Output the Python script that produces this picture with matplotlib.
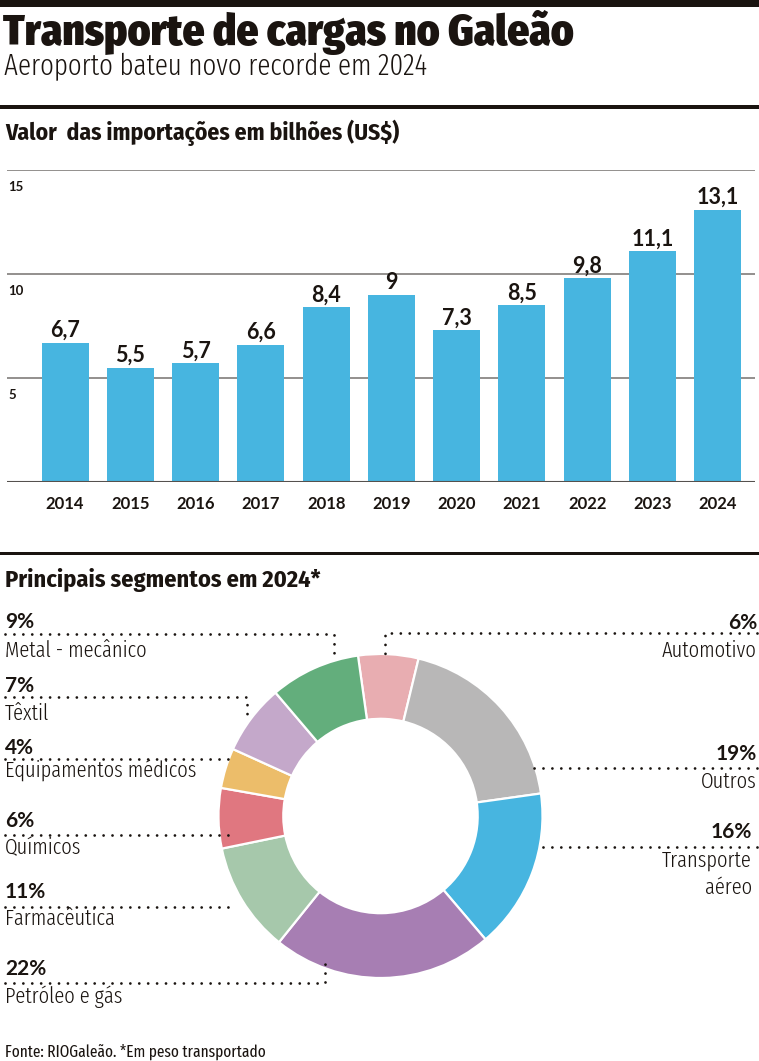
import matplotlib.pyplot as plt
from matplotlib.lines import Line2D
from matplotlib.patches import Rectangle

# data
years = ["2014", "2015", "2016", "2017", "2018", "2019", "2020", "2021", "2022", "2023", "2024"]
imports = [6.7, 5.5, 5.7, 6.6, 8.4, 9.0, 7.3, 8.5, 9.8, 11.1, 13.1]
y_ticks = [5, 10, 15]

segments = ["Automotivo", "Outros", "Transporte\naéreo", "Petróleo e gás", "Farmacêutica",
            "Químicos", "Equipamentos médicos", "Têxtil", "Metal - mecânico"]
shares = [6, 19, 16, 22, 11, 6, 4, 7, 9]
seg_colors = ["#e8adb1", "#b8b7b7", "#47b5e0", "#a77eb3", "#a6c8ab",
              "#e07780", "#ecbd6a", "#c4a8ca", "#63ae7c"]

INK = "#1a1410"
BLUE = "#47b5e0"
COND = ["Fira Sans Extra Condensed", "DejaVu Sans"]
BOLD = ["Fira Sans Condensed", "DejaVu Sans"]
NUM = ["Lato", "DejaVu Sans"]

W, H = 759, 1061
fig = plt.figure(figsize=(W / 100, H / 100), dpi=100)


def fx(x):
    return x / W


def fy(y):
    return 1 - y / H


def txt(x, y, s, size, font=COND, weight=300, ha="left", **kw):
    fig.text(fx(x), fy(y), s, fontsize=size, family=font, fontweight=weight,
             ha=ha, va="baseline", color=INK, **kw)


def rule(y0, y1):
    fig.add_artist(Rectangle((0, fy(y1)), 1, fy(y0) - fy(y1), transform=fig.transFigure,
                             color=INK, lw=0))


def dots(xs, ys):
    fig.add_artist(Line2D([fx(x) for x in xs], [fy(y) for y in ys], color=INK, lw=2.0,
                          linestyle=(0, (0.01, 3.2)), dash_capstyle="round"))


# header
rule(0, 7)
txt(3, 45, "Transporte de cargas no Galeão", 31, font=BOLD, weight=900)
txt(4, 75, "Aeroporto bateu novo recorde em 2024", 21)
rule(105, 109)
txt(5, 140, "Valor  das importações em bilhões (US$)", 17, font=BOLD, weight=700)

# bar chart
ax = fig.add_axes([fx(7), fy(482), (755 - 7) / W, (482 - 170) / H])
x = list(range(len(years)))
ax.bar(x, imports, width=0.72, color=BLUE, zorder=2)
for t in y_ticks:
    ax.axhline(t, color="#8a8785", lw=1.3, zorder=1)
ax.axhline(0, color="#55514e", lw=1.5, zorder=3)
ax.set_xlim(-0.89, 10.57)
ax.set_ylim(0, 15)
ax.axis("off")
for xi, v in zip(x, imports):
    label = f"{v:g}".replace(".", ",")
    ax.annotate(label, (xi, v), xytext=(0, 4), textcoords="offset points", ha="center",
                va="baseline", fontsize=15.5, family=NUM, fontweight="bold", color=INK,
                annotation_clip=False)
    ax.annotate(years[xi], (xi, 0), xytext=(0, -16), textcoords="offset points",
                ha="center", va="center", fontsize=12, family=NUM, fontweight="bold",
                color=INK, annotation_clip=False)
for t in y_ticks:
    ax.annotate(str(t), (-0.89, t), xytext=(1, -12.5), textcoords="offset points",
                ha="left", va="center", fontsize=9.5, family=NUM, fontweight="bold",
                color=INK, annotation_clip=False)

# donut
rule(552, 555)
txt(5, 587, "Principais segmentos em 2024*", 17.5, font=BOLD, weight=700)

cx, cy, r = 380.5, 816, 162
pax = fig.add_axes([fx(cx - r), fy(cy + r), 2 * r / W, 2 * r / H])
pax.pie(shares, colors=seg_colors, startangle=98, counterclock=False,
        wedgeprops=dict(width=0.4, edgecolor="white", linewidth=1.6))
pax.set_xlim(-1, 1)
pax.set_ylim(-1, 1)
pax.axis("off")

# left labels: pct baseline, name baseline, dotted leader path
left = [
    (8, 628, 657, [5, 334, 334], [634, 634, 660]),
    (7, 692, 720, [5, 247, 247], [697, 697, 717]),
    (6, 754, 777, [5, 229], [759, 759]),
    (5, 827, 854, [5, 230], [835, 835]),
    (4, 898, 925, [5, 235], [907, 907]),
    (3, 975, 1003, [5, 325, 325], [983, 983, 960]),
]
for i, yb, nb, xs, ys in left:
    txt(5, yb, f"{shares[i]}%", 15, font=NUM, weight="bold")
    txt(5, nb, segments[i], 16)
    dots(xs, ys)

right = [
    (0, 629, 657, 757, [757, 385, 385], [633, 633, 662]),
    (1, 760, 788, 757, [757, 529], [768, 768]),
    (2, 838, 867, 752, [757, 538], [847, 847]),
]
for i, yb, nb, xr, xs, ys in right:
    txt(xr, yb, f"{shares[i]}%", 15, font=NUM, weight="bold", ha="right")
    for j, part in enumerate(segments[i].split("\n")):
        txt(xr, nb + 27 * j, part, 16, ha="right")
    dots(xs, ys)

txt(5, 1057, "Fonte: RIOGaleão. *Em peso transportado", 12, weight=400)

fig.savefig("out.png", dpi=100)
